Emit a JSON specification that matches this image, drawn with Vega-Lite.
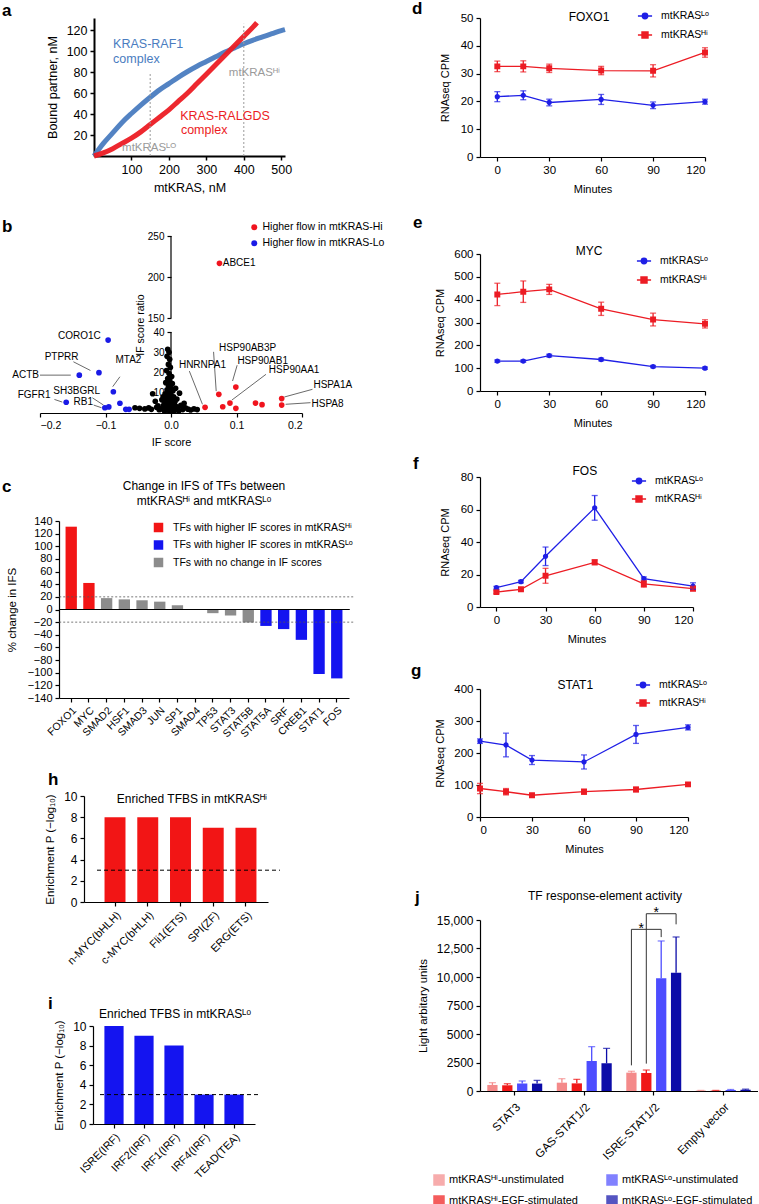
{
  "$schema": "https://vega.github.io/schema/vega-lite/v6.json",
  "background": "white",
  "padding": {"left": 0, "top": 0, "right": 0, "bottom": 0},
  "config": {
    "font": "Liberation Sans",
    "view": {"stroke": null},
    "axis": {"grid": false, "domainColor": "#000", "tickColor": "#000", "labelColor": "#000", "titleColor": "#000", "titleFontWeight": "normal", "labelFontSize": 11, "titleFontSize": 11, "domainWidth": 1.2, "tickWidth": 1.2, "tickSize": 4, "labelPadding": 3, "titlePadding": 8, "labelOverlap": false},
    "title": {"anchor": "start", "frame": "group", "fontSize": 17, "fontWeight": "bold", "color": "#000"},
    "legend": {"labelColor": "#000", "labelFontSize": 10.5, "labelLimit": 300}
  },
  "resolve": {"scale": {"color": "independent", "stroke": "independent", "shape": "independent", "xOffset": "independent"}},
  "spacing": 26,
  "hconcat": [
    {
      "spacing": 0, "bounds": "flush",
      "resolve": {"scale": {"color": "independent", "stroke": "independent", "shape": "independent", "xOffset": "independent"}},
      "vconcat": [
        {
          "width": 285, "height": 218,
          "title": {"text": "a", "dx": 2, "offset": -7},
          "encoding": {
            "x": {"field": "nM", "type": "quantitative", "scale": {"domain": [0, 510], "range": [94, 285], "nice": false}, "axis": {"values": [100, 200, 300, 400, 500], "offset": -80, "title": "mtKRAS, nM", "labelFontSize": 12.5, "titleFontSize": 12.5, "domainWidth": 2, "tickWidth": 1.5, "titlePadding": 6}},
            "y": {"field": "bound", "type": "quantitative", "scale": {"domain": [0, 131.5], "range": [138, 0], "nice": false}, "axis": {"values": [20, 40, 60, 80, 100, 120], "offset": -94, "title": "Bound partner, nM", "labelFontSize": 12.5, "titleFontSize": 12.5, "domainWidth": 2, "tickWidth": 1.5, "titlePadding": 7}},
            "color": {"field": "k", "type": "nominal", "scale": {"domain": ["KRAS-RAF1", "KRAS-RALGDS", "level"], "range": ["#4a7cc0", "#ec1c24", "#9a9a9a"]}, "legend": null}
          },
          "layer": [
            {
              "data": {"values": [
                {"k": "KRAS-RAF1", "nM": 0, "bound": 0}, {"k": "KRAS-RAF1", "nM": 25, "bound": 12}, {"k": "KRAS-RAF1", "nM": 50, "bound": 22}, {"k": "KRAS-RAF1", "nM": 75, "bound": 32}, {"k": "KRAS-RAF1", "nM": 100, "bound": 40.5}, {"k": "KRAS-RAF1", "nM": 125, "bound": 48.5}, {"k": "KRAS-RAF1", "nM": 150, "bound": 56}, {"k": "KRAS-RAF1", "nM": 175, "bound": 63}, {"k": "KRAS-RAF1", "nM": 200, "bound": 69}, {"k": "KRAS-RAF1", "nM": 225, "bound": 75}, {"k": "KRAS-RAF1", "nM": 250, "bound": 80.5}, {"k": "KRAS-RAF1", "nM": 275, "bound": 85.5}, {"k": "KRAS-RAF1", "nM": 300, "bound": 90}, {"k": "KRAS-RAF1", "nM": 325, "bound": 94.5}, {"k": "KRAS-RAF1", "nM": 350, "bound": 99}, {"k": "KRAS-RAF1", "nM": 375, "bound": 103}, {"k": "KRAS-RAF1", "nM": 400, "bound": 107}, {"k": "KRAS-RAF1", "nM": 425, "bound": 110.5}, {"k": "KRAS-RAF1", "nM": 450, "bound": 113.5}, {"k": "KRAS-RAF1", "nM": 475, "bound": 116.5}, {"k": "KRAS-RAF1", "nM": 500, "bound": 119.5}, {"k": "KRAS-RAF1", "nM": 510, "bound": 120.5},
                {"k": "KRAS-RALGDS", "nM": 0, "bound": 0}, {"k": "KRAS-RALGDS", "nM": 25, "bound": 3}, {"k": "KRAS-RALGDS", "nM": 50, "bound": 7}, {"k": "KRAS-RALGDS", "nM": 75, "bound": 12}, {"k": "KRAS-RALGDS", "nM": 100, "bound": 17}, {"k": "KRAS-RALGDS", "nM": 125, "bound": 23}, {"k": "KRAS-RALGDS", "nM": 150, "bound": 30}, {"k": "KRAS-RALGDS", "nM": 175, "bound": 37}, {"k": "KRAS-RALGDS", "nM": 200, "bound": 44}, {"k": "KRAS-RALGDS", "nM": 225, "bound": 52}, {"k": "KRAS-RALGDS", "nM": 250, "bound": 60}, {"k": "KRAS-RALGDS", "nM": 275, "bound": 69}, {"k": "KRAS-RALGDS", "nM": 300, "bound": 78}, {"k": "KRAS-RALGDS", "nM": 325, "bound": 87}, {"k": "KRAS-RALGDS", "nM": 350, "bound": 96}, {"k": "KRAS-RALGDS", "nM": 375, "bound": 105}, {"k": "KRAS-RALGDS", "nM": 400, "bound": 114}, {"k": "KRAS-RALGDS", "nM": 425, "bound": 123}, {"k": "KRAS-RALGDS", "nM": 435, "bound": 127}
              ]},
              "mark": {"type": "line", "strokeWidth": 5, "interpolate": "monotone", "opacity": 0.95}
            },
            {
              "data": {"values": [{"k": "level", "nM": 150, "bound": 0, "b2": 79}, {"k": "level", "nM": 400, "bound": 0, "b2": 126}]},
              "mark": {"type": "rule", "strokeDash": [2, 2], "strokeWidth": 1},
              "encoding": {"y2": {"field": "b2"}}
            },
            {
              "data": {"values": [
                {"k": "KRAS-RAF1", "nM": 51, "bound": 106.7, "t": "KRAS-RAF1"}, {"k": "KRAS-RAF1", "nM": 51, "bound": 92.4, "t": "complex"},
                {"k": "KRAS-RALGDS", "nM": 230, "bound": 38.1, "t": "KRAS-RALGDS"}, {"k": "KRAS-RALGDS", "nM": 232, "bound": 24.8, "t": "complex"}
              ]},
              "mark": {"type": "text", "align": "left", "baseline": "middle", "fontSize": 12.5},
              "encoding": {"text": {"field": "t"}}
            },
            {
              "data": {"values": [{"k": "level", "nM": 75, "bound": 7.6, "t": "mtKRASᴸᴼ"}, {"k": "level", "nM": 360, "bound": 79, "t": "mtKRASᴴⁱ"}]},
              "mark": {"type": "text", "align": "left", "baseline": "middle", "fontSize": 11.5},
              "encoding": {"text": {"field": "t"}}
            }
          ]
        },
        {
          "width": 302, "height": 285,
          "title": {"text": "b", "dx": 2, "offset": -14},
          "encoding": {
            "x": {"field": "s", "type": "quantitative", "scale": {"domain": [-0.2, 0.2], "range": [40, 302], "nice": false, "zero": false}, "axis": {"values": [-0.2, -0.1, 0, 0.1, 0.2], "offset": -108, "format": ".1f", "title": "IF score", "labelFontSize": 10.5, "titleFontSize": 11, "titlePadding": 6}},
            "y": {"field": "r", "type": "quantitative", "scale": {"domain": [0, 40, 150, 250], "range": [177, 96, 82, 0], "nice": false, "zero": false}, "axis": {"values": [10, 20, 30, 40, 150, 200, 250], "offset": -171, "domain": false, "title": "IF score ratio", "labelFontSize": 10, "titleFontSize": 10.5, "titlePadding": 2}}
          },
          "layer": [
            {
              "data": {"values": [{"s": 0, "r": 0, "r2": 40}, {"s": 0, "r": 150, "r2": 250}]},
              "mark": {"type": "rule", "color": "#000", "strokeWidth": 1.2},
              "encoding": {"y2": {"field": "r2"}}
            },
            {
              "data": {"values": [
                {"s": -0.149, "r": 25.3, "s2": -0.123, "r2": 21}, {"s": -0.2, "r": 18.7, "s2": -0.153, "r2": 18.7}, {"s": -0.078, "r": 17.9, "s2": -0.089, "r2": 13}, {"s": -0.12, "r": 7.5, "s2": -0.103, "r2": 3.9}, {"s": -0.118, "r": 3.9, "s2": -0.106, "r2": 2.6}, {"s": -0.178, "r": 6.7, "s2": -0.166, "r2": 5.4},
                {"s": 0.028, "r": 20.7, "s2": 0.048, "r2": 4.3}, {"s": 0.065, "r": 30.2, "s2": 0.069, "r2": 10.8}, {"s": 0.101, "r": 23.6, "s2": 0.094, "r2": 15.8}, {"s": 0.145, "r": 19.1, "s2": 0.093, "r2": 6.4}, {"s": 0.216, "r": 11.7, "s2": 0.173, "r2": 7.9}, {"s": 0.213, "r": 5.1, "s2": 0.175, "r2": 4.3}
              ]},
              "mark": {"type": "rule", "color": "#444", "strokeWidth": 0.8},
              "encoding": {"x2": {"field": "s2"}, "y2": {"field": "r2"}}
            },
            {
              "data": {"values": [
                {"g": "Higher flow in mtKRAS-Lo", "s": -0.096, "r": 36}, {"g": "Higher flow in mtKRAS-Lo", "s": -0.11, "r": 19.9}, {"g": "Higher flow in mtKRAS-Lo", "s": -0.14, "r": 18.7}, {"g": "Higher flow in mtKRAS-Lo", "s": -0.088, "r": 10.5}, {"g": "Higher flow in mtKRAS-Lo", "s": -0.16, "r": 5.3}, {"g": "Higher flow in mtKRAS-Lo", "s": -0.101, "r": 2.6}, {"g": "Higher flow in mtKRAS-Lo", "s": -0.095, "r": 3.0}, {"g": "Higher flow in mtKRAS-Lo", "s": -0.078, "r": 4.8}, {"g": "Higher flow in mtKRAS-Lo", "s": -0.069, "r": 1.8}, {"g": "Higher flow in mtKRAS-Lo", "s": -0.064, "r": 1.8},
                {"g": "Higher flow in mtKRAS-Hi", "s": 0.074, "r": 216.7}, {"g": "Higher flow in mtKRAS-Hi", "s": 0.073, "r": 9.2}, {"g": "Higher flow in mtKRAS-Hi", "s": 0.099, "r": 12.8}, {"g": "Higher flow in mtKRAS-Hi", "s": 0.09, "r": 4.9}, {"g": "Higher flow in mtKRAS-Hi", "s": 0.079, "r": 3.1}, {"g": "Higher flow in mtKRAS-Hi", "s": 0.099, "r": 2.3}, {"g": "Higher flow in mtKRAS-Hi", "s": 0.129, "r": 4.9}, {"g": "Higher flow in mtKRAS-Hi", "s": 0.139, "r": 4.1}, {"g": "Higher flow in mtKRAS-Hi", "s": 0.169, "r": 7.1}, {"g": "Higher flow in mtKRAS-Hi", "s": 0.169, "r": 3.9}, {"g": "Higher flow in mtKRAS-Hi", "s": 0.052, "r": 2.8},
                {"g": "Other", "s": -0.005, "r": 31.5}, {"g": "Other", "s": -0.003, "r": 30}, {"g": "Other", "s": -0.006, "r": 28}, {"g": "Other", "s": -0.002, "r": 26.5}, {"g": "Other", "s": -0.004, "r": 24}, {"g": "Other", "s": -0.001, "r": 22.5}, {"g": "Other", "s": -0.007, "r": 21}, {"g": "Other", "s": -0.003, "r": 19.5}, {"g": "Other", "s": 0.001, "r": 18}, {"g": "Other", "s": -0.005, "r": 17}, {"g": "Other", "s": -0.002, "r": 16}, {"g": "Other", "s": -0.008, "r": 15}, {"g": "Other", "s": 0.002, "r": 14.5}, {"g": "Other", "s": -0.004, "r": 13.5}, {"g": "Other", "s": -0.001, "r": 12.5}, {"g": "Other", "s": -0.006, "r": 11.5}, {"g": "Other", "s": 0.003, "r": 11}, {"g": "Other", "s": -0.003, "r": 10}, {"g": "Other", "s": -0.009, "r": 9.5}, {"g": "Other", "s": 0.0, "r": 9}, {"g": "Other", "s": -0.005, "r": 8.5}, {"g": "Other", "s": 0.004, "r": 8}, {"g": "Other", "s": -0.002, "r": 7.5}, {"g": "Other", "s": -0.007, "r": 7}, {"g": "Other", "s": 0.002, "r": 6.5}, {"g": "Other", "s": -0.004, "r": 6}, {"g": "Other", "s": 0.006, "r": 5.5}, {"g": "Other", "s": -0.01, "r": 5}, {"g": "Other", "s": 0.001, "r": 5}, {"g": "Other", "s": -0.006, "r": 4.5}, {"g": "Other", "s": 0.005, "r": 4}, {"g": "Other", "s": -0.002, "r": 3.8}, {"g": "Other", "s": -0.012, "r": 3.5}, {"g": "Other", "s": 0.008, "r": 3.2}, {"g": "Other", "s": -0.004, "r": 3}, {"g": "Other", "s": 0.003, "r": 2.7}, {"g": "Other", "s": -0.008, "r": 2.4}, {"g": "Other", "s": 0.01, "r": 2.2}, {"g": "Other", "s": -0.015, "r": 2}, {"g": "Other", "s": 0.0, "r": 1.8}, {"g": "Other", "s": -0.006, "r": 1.5}, {"g": "Other", "s": 0.006, "r": 1.4}, {"g": "Other", "s": -0.003, "r": 1.2}, {"g": "Other", "s": 0.012, "r": 1.1}, {"g": "Other", "s": -0.01, "r": 1.0}, {"g": "Other", "s": 0.002, "r": 0.9},
                {"g": "Other", "s": -0.055, "r": 2.6}, {"g": "Other", "s": -0.048, "r": 2.3}, {"g": "Other", "s": -0.04, "r": 2.0}, {"g": "Other", "s": -0.034, "r": 2.5}, {"g": "Other", "s": -0.028, "r": 9.5}, {"g": "Other", "s": -0.024, "r": 5.8}, {"g": "Other", "s": -0.03, "r": 1.8}, {"g": "Other", "s": -0.02, "r": 3.5}, {"g": "Other", "s": -0.018, "r": 1.6}, {"g": "Other", "s": -0.014, "r": 6.5}, {"g": "Other", "s": 0.009, "r": 6.9}, {"g": "Other", "s": 0.015, "r": 3.8}, {"g": "Other", "s": 0.018, "r": 1.7}, {"g": "Other", "s": 0.022, "r": 2.6}, {"g": "Other", "s": 0.026, "r": 1.9}, {"g": "Other", "s": 0.03, "r": 1.5}, {"g": "Other", "s": 0.035, "r": 2.0}, {"g": "Other", "s": 0.04, "r": 1.7}, {"g": "Other", "s": 0.02, "r": 4.8}, {"g": "Other", "s": -0.022, "r": 2.8}, {"g": "Other", "s": 0.013, "r": 9.8}, {"g": "Other", "s": 0.007, "r": 12.2}, {"g": "Other", "s": -0.012, "r": 8.0}
              ]},
              "mark": {"type": "circle", "size": 32, "opacity": 1},
              "encoding": {"color": {"field": "g", "type": "nominal", "scale": {"domain": ["Higher flow in mtKRAS-Hi", "Higher flow in mtKRAS-Lo", "Other"], "range": ["#f0141e", "#1a1ae6", "#000000"]}, "legend": {"values": ["Higher flow in mtKRAS-Hi", "Higher flow in mtKRAS-Lo"], "title": null, "orient": "none", "legendX": 249, "legendY": -14, "padding": 0, "rowPadding": 5, "labelOffset": 3, "labelFontSize": 10.5, "symbolSize": 35, "symbolType": "circle"}}}
            },
            {
              "data": {"values": [
                {"s": -0.14, "r": 37.9, "t": "CORO1C"}, {"s": -0.167, "r": 27.6, "t": "PTPRR"}, {"s": -0.222, "r": 18.7, "t": "ACTB"}, {"s": -0.065, "r": 26.4, "t": "MTA2"}, {"s": -0.144, "r": 10.8, "t": "SH3BGRL"}, {"s": -0.134, "r": 5.4, "t": "RB1"}, {"s": -0.209, "r": 8.7, "t": "FGFR1"},
                {"s": 0.048, "r": 23.6, "t": "HNRNPA1"}, {"s": 0.117, "r": 32.2, "t": "HSP90AB3P"}, {"s": 0.14, "r": 25.6, "t": "HSP90AB1"}, {"s": 0.188, "r": 21, "t": "HSP90AA1"}, {"s": 0.247, "r": 13.6, "t": "HSPA1A"}, {"s": 0.239, "r": 4.6, "t": "HSPA8"}, {"s": 0.104, "r": 216.7, "t": "ABCE1"}
              ]},
              "mark": {"type": "text", "fontSize": 10, "baseline": "middle"},
              "encoding": {"text": {"field": "t"}}
            }
          ]
        },
        {
          "width": 349, "height": 275,
          "title": {"text": "c", "dx": 2, "offset": -16},
          "layer": [
            {
              "data": {"values": [
                {"tf": "FOXO1", "v": 131, "cls": "TFs with higher IF scores in mtKRASᴴⁱ"}, {"tf": "MYC", "v": 42, "cls": "TFs with higher IF scores in mtKRASᴴⁱ"},
                {"tf": "SMAD2", "v": 18, "cls": "TFs with no change in IF scores"}, {"tf": "HSF1", "v": 16, "cls": "TFs with no change in IF scores"}, {"tf": "SMAD3", "v": 14.6, "cls": "TFs with no change in IF scores"}, {"tf": "JUN", "v": 12.4, "cls": "TFs with no change in IF scores"}, {"tf": "SP1", "v": 6.7, "cls": "TFs with no change in IF scores"}, {"tf": "SMAD4", "v": 0, "cls": "TFs with no change in IF scores"}, {"tf": "TP53", "v": -5.8, "cls": "TFs with no change in IF scores"}, {"tf": "STAT3", "v": -9.5, "cls": "TFs with no change in IF scores"}, {"tf": "STAT5B", "v": -20.6, "cls": "TFs with no change in IF scores"},
                {"tf": "STAT5A", "v": -26, "cls": "TFs with higher IF scores in mtKRASᴸᵒ"}, {"tf": "SRF", "v": -31, "cls": "TFs with higher IF scores in mtKRASᴸᵒ"}, {"tf": "CREB1", "v": -48, "cls": "TFs with higher IF scores in mtKRASᴸᵒ"}, {"tf": "STAT1", "v": -102, "cls": "TFs with higher IF scores in mtKRASᴸᵒ"}, {"tf": "FOS", "v": -109, "cls": "TFs with higher IF scores in mtKRASᴸᵒ"}
              ]},
              "mark": {"type": "bar"},
              "encoding": {
                "x": {"field": "tf", "type": "nominal", "sort": null, "scale": {"range": [59, 349], "paddingInner": 0.36, "paddingOuter": 0.37}, "axis": {"labelAngle": -45, "offset": -98, "title": null, "labelFontSize": 10.5}},
                "y": {"field": "v", "type": "quantitative", "scale": {"domain": [-140, 140], "range": [177, 0], "nice": false}, "axis": {"values": [-140, -120, -100, -80, -60, -40, -20, 0, 20, 40, 60, 80, 100, 120, 140], "offset": -59, "title": "% change in IFS", "labelFontSize": 11, "titleFontSize": 11.5, "titlePadding": 10, "labelOverlap": false}},
                "color": {"field": "cls", "type": "nominal", "scale": {"domain": ["TFs with higher IF scores in mtKRASᴴⁱ", "TFs with higher IF scores in mtKRASᴸᵒ", "TFs with no change in IF scores"], "range": ["#f21515", "#1414f0", "#8c8c8c"]}, "legend": {"title": null, "orient": "none", "legendX": 153, "legendY": 1, "padding": 0, "rowPadding": 6.5, "labelOffset": 9, "labelFontSize": 10.5, "symbolSize": 90, "symbolType": "square"}}
              }
            },
            {
              "data": {"values": [{}]},
              "mark": {"type": "rule", "color": "#000", "strokeWidth": 1.2, "xOffset": -12, "x2Offset": 13},
              "encoding": {
                "x": {"datum": "FOXO1", "type": "nominal", "axis": {"labelAngle": -45, "offset": -98, "title": null, "labelFontSize": 10.5}},
                "x2": {"datum": "FOS"},
                "y": {"datum": 0, "type": "quantitative", "axis": {"values": [-140, -120, -100, -80, -60, -40, -20, 0, 20, 40, 60, 80, 100, 120, 140], "offset": -59, "title": "% change in IFS", "labelFontSize": 11, "titleFontSize": 11.5, "titlePadding": 10, "labelOverlap": false}}
              }
            },
            {
              "data": {"values": [{"v": 20}, {"v": -20}]},
              "mark": {"type": "rule", "strokeDash": [2, 2], "color": "#555", "strokeWidth": 0.8, "xOffset": -12, "x2Offset": 17},
              "encoding": {
                "x": {"datum": "FOXO1", "type": "nominal", "axis": {"labelAngle": -45, "offset": -98, "title": null, "labelFontSize": 10.5}},
                "x2": {"datum": "FOS"},
                "y": {"field": "v", "type": "quantitative", "axis": {"values": [-140, -120, -100, -80, -60, -40, -20, 0, 20, 40, 60, 80, 100, 120, 140], "offset": -59, "title": "% change in IFS", "labelFontSize": 11, "titleFontSize": 11.5, "titlePadding": 10, "labelOverlap": false}}
              }
            },
            {
              "data": {"values": [{"v": 196, "t": "Change in IFS of TFs between"}, {"v": 172, "t": "mtKRASᴴⁱ and mtKRASᴸᵒ"}]},
              "mark": {"type": "text", "fontSize": 12, "baseline": "middle", "dx": 29.5},
              "encoding": {"y": {"field": "v", "type": "quantitative", "axis": {"values": [-140, -120, -100, -80, -60, -40, -20, 0, 20, 40, 60, 80, 100, 120, 140], "offset": -59, "title": "% change in IFS", "labelFontSize": 11, "titleFontSize": 11.5, "titlePadding": 10, "labelOverlap": false}}, "text": {"field": "t"}}
            }
          ]
        },
        {
          "width": 268, "height": 230,
          "title": {"text": "h", "dx": 48, "offset": 1},
          "encoding": {
            "y": {"field": "v", "type": "quantitative", "scale": {"domain": [0, 10], "range": [106, 0], "nice": false}, "axis": {"values": [0, 2, 4, 6, 8, 10], "offset": -84, "title": "Enrichment P (−log₁₀)", "labelFontSize": 12, "titleFontSize": 11.5, "titlePadding": 8, "labelOverlap": false}}
          },
          "layer": [
            {
              "data": {"values": [{"f": "n-MYC(bHLH)", "v": 8}, {"f": "c-MYC(bHLH)", "v": 8}, {"f": "Fli1(ETS)", "v": 8}, {"f": "SPI(ZF)", "v": 7}, {"f": "ERG(ETS)", "v": 7}]},
              "mark": {"type": "bar", "color": "#f21515"},
              "encoding": {
                "x": {"field": "f", "type": "nominal", "sort": null, "scale": {"range": [84, 268], "paddingInner": 0.36, "paddingOuter": 0.49, "align": 0.64}, "axis": {"labelAngle": -45, "offset": -124, "title": null, "labelFontSize": 11}}
              }
            },
            {
              "data": {"values": [{"v": 3}]},
              "mark": {"type": "rule", "strokeDash": [4, 3], "color": "#000", "strokeWidth": 1, "xOffset": -18, "x2Offset": 34},
              "encoding": {
                "x": {"datum": "n-MYC(bHLH)", "type": "nominal", "axis": {"labelAngle": -45, "offset": -124, "title": null, "labelFontSize": 11}},
                "x2": {"datum": "ERG(ETS)"}
              }
            },
            {"data": {"values": [{"v": 9.7, "t": "Enriched TFBS in mtKRASᴴⁱ"}]}, "mark": {"type": "text", "fontSize": 12, "baseline": "middle", "dx": 58}, "encoding": {"text": {"field": "t"}}}
          ]
        },
        {
          "width": 255, "height": 98,
          "title": {"text": "i", "dx": 48, "offset": -5},
          "encoding": {
            "y": {"field": "v", "type": "quantitative", "scale": {"domain": [0, 10], "range": [98, 0], "nice": false}, "axis": {"values": [0, 2, 4, 6, 8, 10], "offset": -93, "title": "Enrichment P (−log₁₀)", "labelFontSize": 12, "titleFontSize": 11.5, "titlePadding": 8, "labelOverlap": false}}
          },
          "layer": [
            {
              "data": {"values": [{"f": "ISRE(IRF)", "v": 10}, {"f": "IRF2(IRF)", "v": 9}, {"f": "IRF1(IRF)", "v": 8}, {"f": "IRF4(IRF)", "v": 3}, {"f": "TEAD(TEA)", "v": 3}]},
              "mark": {"type": "bar", "color": "#1414f0"},
              "encoding": {
                "x": {"field": "f", "type": "nominal", "sort": null, "scale": {"range": [93, 255], "paddingInner": 0.36, "paddingOuter": 0.38}, "axis": {"labelAngle": -45, "title": null, "labelFontSize": 11}}
              }
            },
            {
              "data": {"values": [{"v": 3}]},
              "mark": {"type": "rule", "strokeDash": [4, 3], "color": "#000", "strokeWidth": 1, "xOffset": -14, "x2Offset": 26},
              "encoding": {
                "x": {"datum": "ISRE(IRF)", "type": "nominal", "axis": {"labelAngle": -45, "title": null, "labelFontSize": 11}},
                "x2": {"datum": "TEAD(TEA)"}
              }
            },
            {"data": {"values": [{"v": 11.2, "t": "Enriched TFBS in mtKRASᴸᵒ"}]}, "mark": {"type": "text", "fontSize": 12, "baseline": "middle", "dx": 47.5}, "encoding": {"text": {"field": "t"}}}
          ]
        }
      ]
    },
    {
      "spacing": 0, "bounds": "flush",
      "resolve": {"scale": {"color": "independent", "stroke": "independent", "shape": "independent", "xOffset": "independent"}},
      "vconcat": [
        {
          "width": 225, "height": 236,
          "title": {"text": "d", "dx": -68, "offset": -10},
          "data": {"values": [
            {"m": 0, "s": "mtKRASᴸᵒ", "v": 21.7, "lo": 19.9, "hi": 23.5}, {"m": 15, "s": "mtKRASᴸᵒ", "v": 22.2, "lo": 20.6, "hi": 23.8}, {"m": 30, "s": "mtKRASᴸᵒ", "v": 19.6, "lo": 18.4, "hi": 20.8}, {"m": 60, "s": "mtKRASᴸᵒ", "v": 20.7, "lo": 18.9, "hi": 22.5}, {"m": 90, "s": "mtKRASᴸᵒ", "v": 18.6, "lo": 17.4, "hi": 19.8}, {"m": 120, "s": "mtKRASᴸᵒ", "v": 19.9, "lo": 19.0, "hi": 20.8},
            {"m": 0, "s": "mtKRASᴴⁱ", "v": 32.6, "lo": 30.7, "hi": 34.5}, {"m": 15, "s": "mtKRASᴴⁱ", "v": 32.6, "lo": 30.6, "hi": 34.6}, {"m": 30, "s": "mtKRASᴴⁱ", "v": 31.9, "lo": 30.4, "hi": 33.4}, {"m": 60, "s": "mtKRASᴴⁱ", "v": 31.1, "lo": 29.6, "hi": 32.6}, {"m": 90, "s": "mtKRASᴴⁱ", "v": 31.0, "lo": 28.8, "hi": 33.2}, {"m": 120, "s": "mtKRASᴴⁱ", "v": 37.6, "lo": 35.9, "hi": 39.3}
          ]},
          "encoding": {
            "x": {"field": "m", "type": "quantitative", "scale": {"domain": [-10, 120], "nice": false, "zero": false}, "axis": {"values": [0, 30, 60, 90, 120], "offset": -97, "title": "Minutes", "labelFontSize": 11.5}}
          },
          "layer": [
            {
              "mark": {"type": "point", "filled": true, "opacity": 1, "size": 200, "strokeWidth": 0},
              "encoding": {
                "y": {"field": "v", "type": "quantitative", "scale": {"domain": [0, 50], "range": [139, 0], "nice": false}, "axis": {"values": [0, 10, 20, 30, 40, 50], "title": "RNAseq CPM", "labelFontSize": 11.5, "titlePadding": 10, "labelOverlap": false}},
                "color": {"field": "s", "type": "nominal", "scale": {"domain": ["mtKRASᴸᵒ", "mtKRASᴴⁱ"], "range": ["#1f1fe6", "#ec1c24"]}, "legend": {"title": null, "orient": "none", "legendX": 157, "legendY": -10, "padding": 0, "rowPadding": 5, "labelOffset": 8, "labelFontSize": 10.5, "symbolSize": 200, "encode": {"symbols": {"update": {"strokeWidth": {"value": 1.4}}}}}},
                "stroke": {"field": "s", "type": "nominal", "scale": {"domain": ["mtKRASᴸᵒ", "mtKRASᴴⁱ"], "range": ["#1f1fe6", "#ec1c24"]}, "legend": {"title": null, "orient": "none", "legendX": 157, "legendY": -10, "padding": 0, "rowPadding": 5, "labelOffset": 8, "labelFontSize": 10.5, "symbolSize": 200, "encode": {"symbols": {"update": {"strokeWidth": {"value": 1.4}}}}}},
                "shape": {"field": "s", "type": "nominal", "scale": {"domain": ["mtKRASᴸᵒ", "mtKRASᴴⁱ"], "range": ["M-1,0H1M0.375,0A0.375,0.375,0,1,1,-0.375,0A0.375,0.375,0,1,1,0.375,0Z", "M-1,0H1M-0.42,-0.42H0.42V0.42H-0.42Z"]}, "legend": {"title": null, "orient": "none", "legendX": 157, "legendY": -10, "padding": 0, "rowPadding": 5, "labelOffset": 8, "labelFontSize": 10.5, "symbolSize": 200, "encode": {"symbols": {"update": {"strokeWidth": {"value": 1.4}}}}}}
              }
            },
            {"mark": {"type": "line", "strokeWidth": 1.3}, "encoding": {"y": {"field": "v", "type": "quantitative", "axis": {"values": [0, 10, 20, 30, 40, 50], "title": "RNAseq CPM", "labelFontSize": 11.5, "titlePadding": 10, "labelOverlap": false}}, "color": {"field": "s", "type": "nominal"}}},
            {"mark": {"type": "errorbar", "ticks": {"size": 6}, "thickness": 1.3}, "encoding": {"y": {"field": "lo", "type": "quantitative", "axis": {"values": [0, 10, 20, 30, 40, 50], "title": "RNAseq CPM", "labelFontSize": 11.5, "titlePadding": 10, "labelOverlap": false}}, "y2": {"field": "hi"}, "color": {"field": "s", "type": "nominal"}}},
            {"data": {"values": [{"m": 53, "v": 50.3, "t": "FOXO1"}]}, "mark": {"type": "text", "fontSize": 12, "baseline": "middle"}, "encoding": {"y": {"field": "v", "type": "quantitative", "axis": {"values": [0, 10, 20, 30, 40, 50], "title": "RNAseq CPM", "labelFontSize": 11.5, "titlePadding": 10, "labelOverlap": false}}, "text": {"field": "t"}}}
          ]
        },
        {
          "width": 225, "height": 223,
          "title": {"text": "e", "dx": -67, "offset": 13},
          "data": {"values": [
            {"m": 0, "s": "mtKRASᴸᵒ", "v": 131, "lo": 126, "hi": 136}, {"m": 15, "s": "mtKRASᴸᵒ", "v": 131, "lo": 126, "hi": 136}, {"m": 30, "s": "mtKRASᴸᵒ", "v": 155, "lo": 149, "hi": 161}, {"m": 60, "s": "mtKRASᴸᵒ", "v": 138, "lo": 132, "hi": 144}, {"m": 90, "s": "mtKRASᴸᵒ", "v": 107, "lo": 102, "hi": 112}, {"m": 120, "s": "mtKRASᴸᵒ", "v": 100, "lo": 95, "hi": 105},
            {"m": 0, "s": "mtKRASᴴⁱ", "v": 423, "lo": 374, "hi": 472}, {"m": 15, "s": "mtKRASᴴⁱ", "v": 435, "lo": 388, "hi": 482}, {"m": 30, "s": "mtKRASᴴⁱ", "v": 445, "lo": 423, "hi": 467}, {"m": 60, "s": "mtKRASᴴⁱ", "v": 360, "lo": 331, "hi": 389}, {"m": 90, "s": "mtKRASᴴⁱ", "v": 313, "lo": 285, "hi": 341}, {"m": 120, "s": "mtKRASᴴⁱ", "v": 294, "lo": 276, "hi": 312}
          ]},
          "encoding": {
            "x": {"field": "m", "type": "quantitative", "scale": {"domain": [-10, 120], "nice": false, "zero": false}, "axis": {"values": [0, 30, 60, 90, 120], "offset": -86, "title": "Minutes", "labelFontSize": 11.5}}
          },
          "layer": [
            {
              "mark": {"type": "point", "filled": true, "opacity": 1, "size": 200, "strokeWidth": 0},
              "encoding": {
                "y": {"field": "v", "type": "quantitative", "scale": {"domain": [0, 600], "range": [137, 0], "nice": false}, "axis": {"values": [0, 100, 200, 300, 400, 500, 600], "title": "RNAseq CPM", "labelFontSize": 11.5, "titlePadding": 8, "labelOverlap": false}},
                "color": {"field": "s", "type": "nominal", "scale": {"domain": ["mtKRASᴸᵒ", "mtKRASᴴⁱ"], "range": ["#1f1fe6", "#ec1c24"]}, "legend": {"title": null, "orient": "none", "legendX": 156, "legendY": -1, "padding": 0, "rowPadding": 5, "labelOffset": 8, "labelFontSize": 10.5, "symbolSize": 200, "encode": {"symbols": {"update": {"strokeWidth": {"value": 1.4}}}}}},
                "stroke": {"field": "s", "type": "nominal", "scale": {"domain": ["mtKRASᴸᵒ", "mtKRASᴴⁱ"], "range": ["#1f1fe6", "#ec1c24"]}, "legend": {"title": null, "orient": "none", "legendX": 156, "legendY": -1, "padding": 0, "rowPadding": 5, "labelOffset": 8, "labelFontSize": 10.5, "symbolSize": 200, "encode": {"symbols": {"update": {"strokeWidth": {"value": 1.4}}}}}},
                "shape": {"field": "s", "type": "nominal", "scale": {"domain": ["mtKRASᴸᵒ", "mtKRASᴴⁱ"], "range": ["M-1,0H1M0.375,0A0.375,0.375,0,1,1,-0.375,0A0.375,0.375,0,1,1,0.375,0Z", "M-1,0H1M-0.42,-0.42H0.42V0.42H-0.42Z"]}, "legend": {"title": null, "orient": "none", "legendX": 156, "legendY": -1, "padding": 0, "rowPadding": 5, "labelOffset": 8, "labelFontSize": 10.5, "symbolSize": 200, "encode": {"symbols": {"update": {"strokeWidth": {"value": 1.4}}}}}}
              }
            },
            {"mark": {"type": "line", "strokeWidth": 1.3}, "encoding": {"y": {"field": "v", "type": "quantitative", "axis": {"values": [0, 100, 200, 300, 400, 500, 600], "title": "RNAseq CPM", "labelFontSize": 11.5, "titlePadding": 8, "labelOverlap": false}}, "color": {"field": "s", "type": "nominal"}}},
            {"mark": {"type": "errorbar", "ticks": {"size": 6}, "thickness": 1.3}, "encoding": {"y": {"field": "lo", "type": "quantitative", "axis": {"values": [0, 100, 200, 300, 400, 500, 600], "title": "RNAseq CPM", "labelFontSize": 11.5, "titlePadding": 8, "labelOverlap": false}}, "y2": {"field": "hi"}, "color": {"field": "s", "type": "nominal"}}},
            {"data": {"values": [{"m": 53, "v": 613, "t": "MYC"}]}, "mark": {"type": "text", "fontSize": 12, "baseline": "middle"}, "encoding": {"y": {"field": "v", "type": "quantitative", "axis": {"values": [0, 100, 200, 300, 400, 500, 600], "title": "RNAseq CPM", "labelFontSize": 11.5, "titlePadding": 8, "labelOverlap": false}}, "text": {"field": "t"}}}
          ]
        },
        {
          "width": 213, "height": 212,
          "title": {"text": "f", "dx": -67, "offset": -8},
          "data": {"values": [
            {"m": 0, "s": "mtKRASᴸᵒ", "v": 11.9, "lo": 11.1, "hi": 12.7}, {"m": 15, "s": "mtKRASᴸᵒ", "v": 15.6, "lo": 14.8, "hi": 16.4}, {"m": 30, "s": "mtKRASᴸᵒ", "v": 31.2, "lo": 25.5, "hi": 36.9}, {"m": 60, "s": "mtKRASᴸᵒ", "v": 61, "lo": 53.4, "hi": 68.6}, {"m": 90, "s": "mtKRASᴸᵒ", "v": 17.5, "lo": 16.5, "hi": 18.5}, {"m": 120, "s": "mtKRASᴸᵒ", "v": 12.9, "lo": 10.9, "hi": 14.9},
            {"m": 0, "s": "mtKRASᴴⁱ", "v": 9.2, "lo": 8.4, "hi": 10.0}, {"m": 15, "s": "mtKRASᴴⁱ", "v": 10.9, "lo": 10.1, "hi": 11.7}, {"m": 30, "s": "mtKRASᴴⁱ", "v": 19.2, "lo": 14.6, "hi": 23.8}, {"m": 60, "s": "mtKRASᴴⁱ", "v": 27.5, "lo": 26.0, "hi": 29.0}, {"m": 90, "s": "mtKRASᴴⁱ", "v": 14.2, "lo": 12.2, "hi": 16.2}, {"m": 120, "s": "mtKRASᴴⁱ", "v": 11.3, "lo": 9.8, "hi": 12.8}
          ]},
          "encoding": {
            "x": {"field": "m", "type": "quantitative", "scale": {"domain": [-10, 120], "nice": false, "zero": false}, "axis": {"values": [0, 30, 60, 90, 120], "offset": -82, "title": "Minutes", "labelFontSize": 11.5}}
          },
          "layer": [
            {
              "mark": {"type": "point", "filled": true, "opacity": 1, "size": 200, "strokeWidth": 0},
              "encoding": {
                "y": {"field": "v", "type": "quantitative", "scale": {"domain": [0, 80], "range": [130, 0], "nice": false}, "axis": {"values": [0, 20, 40, 60, 80], "title": "RNAseq CPM", "labelFontSize": 11.5, "titlePadding": 10, "labelOverlap": false}},
                "color": {"field": "s", "type": "nominal", "scale": {"domain": ["mtKRASᴸᵒ", "mtKRASᴴⁱ"], "range": ["#1f1fe6", "#ec1c24"]}, "legend": {"title": null, "orient": "none", "legendX": 151, "legendY": -4, "padding": 0, "rowPadding": 4, "labelOffset": 8, "labelFontSize": 10.5, "symbolSize": 200, "encode": {"symbols": {"update": {"strokeWidth": {"value": 1.4}}}}}},
                "stroke": {"field": "s", "type": "nominal", "scale": {"domain": ["mtKRASᴸᵒ", "mtKRASᴴⁱ"], "range": ["#1f1fe6", "#ec1c24"]}, "legend": {"title": null, "orient": "none", "legendX": 151, "legendY": -4, "padding": 0, "rowPadding": 4, "labelOffset": 8, "labelFontSize": 10.5, "symbolSize": 200, "encode": {"symbols": {"update": {"strokeWidth": {"value": 1.4}}}}}},
                "shape": {"field": "s", "type": "nominal", "scale": {"domain": ["mtKRASᴸᵒ", "mtKRASᴴⁱ"], "range": ["M-1,0H1M0.375,0A0.375,0.375,0,1,1,-0.375,0A0.375,0.375,0,1,1,0.375,0Z", "M-1,0H1M-0.42,-0.42H0.42V0.42H-0.42Z"]}, "legend": {"title": null, "orient": "none", "legendX": 151, "legendY": -4, "padding": 0, "rowPadding": 4, "labelOffset": 8, "labelFontSize": 10.5, "symbolSize": 200, "encode": {"symbols": {"update": {"strokeWidth": {"value": 1.4}}}}}}
              }
            },
            {"mark": {"type": "line", "strokeWidth": 1.3}, "encoding": {"y": {"field": "v", "type": "quantitative", "axis": {"values": [0, 20, 40, 60, 80], "title": "RNAseq CPM", "labelFontSize": 11.5, "titlePadding": 10, "labelOverlap": false}}, "color": {"field": "s", "type": "nominal"}}},
            {"mark": {"type": "errorbar", "ticks": {"size": 6}, "thickness": 1.3}, "encoding": {"y": {"field": "lo", "type": "quantitative", "axis": {"values": [0, 20, 40, 60, 80], "title": "RNAseq CPM", "labelFontSize": 11.5, "titlePadding": 10, "labelOverlap": false}}, "y2": {"field": "hi"}, "color": {"field": "s", "type": "nominal"}}},
            {"data": {"values": [{"m": 54, "v": 83.5, "t": "FOS"}]}, "mark": {"type": "text", "fontSize": 12, "baseline": "middle"}, "encoding": {"y": {"field": "v", "type": "quantitative", "axis": {"values": [0, 20, 40, 60, 80], "title": "RNAseq CPM", "labelFontSize": 11.5, "titlePadding": 10, "labelOverlap": false}}, "text": {"field": "t"}}}
          ]
        },
        {
          "width": 208, "height": 231,
          "title": {"text": "g", "dx": -69, "offset": -3},
          "data": {"values": [
            {"m": 0, "s": "mtKRASᴸᵒ", "v": 237, "lo": 230, "hi": 244}, {"m": 15, "s": "mtKRASᴸᵒ", "v": 225, "lo": 188, "hi": 262}, {"m": 30, "s": "mtKRASᴸᵒ", "v": 178, "lo": 164, "hi": 192}, {"m": 60, "s": "mtKRASᴸᵒ", "v": 172, "lo": 150, "hi": 194}, {"m": 90, "s": "mtKRASᴸᵒ", "v": 258, "lo": 230, "hi": 286}, {"m": 120, "s": "mtKRASᴸᵒ", "v": 280, "lo": 272, "hi": 288},
            {"m": 0, "s": "mtKRASᴴⁱ", "v": 89, "lo": 73, "hi": 105}, {"m": 15, "s": "mtKRASᴴⁱ", "v": 79, "lo": 69, "hi": 89}, {"m": 30, "s": "mtKRASᴴⁱ", "v": 68, "lo": 63, "hi": 73}, {"m": 60, "s": "mtKRASᴴⁱ", "v": 79, "lo": 71, "hi": 87}, {"m": 90, "s": "mtKRASᴴⁱ", "v": 86, "lo": 79, "hi": 93}, {"m": 120, "s": "mtKRASᴴⁱ", "v": 102, "lo": 97, "hi": 107}
          ]},
          "encoding": {
            "x": {"field": "m", "type": "quantitative", "scale": {"domain": [0, 120], "nice": false, "zero": false}, "axis": {"values": [0, 30, 60, 90, 120], "offset": -103, "title": "Minutes", "labelFontSize": 11.5}}
          },
          "layer": [
            {
              "mark": {"type": "point", "filled": true, "opacity": 1, "size": 200, "strokeWidth": 0},
              "encoding": {
                "y": {"field": "v", "type": "quantitative", "scale": {"domain": [0, 400], "range": [128, 0], "nice": false}, "axis": {"values": [0, 100, 200, 300, 400], "title": "RNAseq CPM", "labelFontSize": 11.5, "titlePadding": 8, "labelOverlap": false}},
                "color": {"field": "s", "type": "nominal", "scale": {"domain": ["mtKRASᴸᵒ", "mtKRASᴴⁱ"], "range": ["#1f1fe6", "#ec1c24"]}, "legend": {"title": null, "orient": "none", "legendX": 155, "legendY": -12, "padding": 0, "rowPadding": 4, "labelOffset": 8, "labelFontSize": 10.5, "symbolSize": 200, "encode": {"symbols": {"update": {"strokeWidth": {"value": 1.4}}}}}},
                "stroke": {"field": "s", "type": "nominal", "scale": {"domain": ["mtKRASᴸᵒ", "mtKRASᴴⁱ"], "range": ["#1f1fe6", "#ec1c24"]}, "legend": {"title": null, "orient": "none", "legendX": 155, "legendY": -12, "padding": 0, "rowPadding": 4, "labelOffset": 8, "labelFontSize": 10.5, "symbolSize": 200, "encode": {"symbols": {"update": {"strokeWidth": {"value": 1.4}}}}}},
                "shape": {"field": "s", "type": "nominal", "scale": {"domain": ["mtKRASᴸᵒ", "mtKRASᴴⁱ"], "range": ["M-1,0H1M0.375,0A0.375,0.375,0,1,1,-0.375,0A0.375,0.375,0,1,1,0.375,0Z", "M-1,0H1M-0.42,-0.42H0.42V0.42H-0.42Z"]}, "legend": {"title": null, "orient": "none", "legendX": 155, "legendY": -12, "padding": 0, "rowPadding": 4, "labelOffset": 8, "labelFontSize": 10.5, "symbolSize": 200, "encode": {"symbols": {"update": {"strokeWidth": {"value": 1.4}}}}}}
              }
            },
            {"mark": {"type": "line", "strokeWidth": 1.3}, "encoding": {"y": {"field": "v", "type": "quantitative", "axis": {"values": [0, 100, 200, 300, 400], "title": "RNAseq CPM", "labelFontSize": 11.5, "titlePadding": 8, "labelOverlap": false}}, "color": {"field": "s", "type": "nominal"}}},
            {"mark": {"type": "errorbar", "ticks": {"size": 6}, "thickness": 1.3}, "encoding": {"y": {"field": "lo", "type": "quantitative", "axis": {"values": [0, 100, 200, 300, 400], "title": "RNAseq CPM", "labelFontSize": 11.5, "titlePadding": 8, "labelOverlap": false}}, "y2": {"field": "hi"}, "color": {"field": "s", "type": "nominal"}}},
            {"data": {"values": [{"m": 55, "v": 411, "t": "STAT1"}]}, "mark": {"type": "text", "fontSize": 12, "baseline": "middle"}, "encoding": {"y": {"field": "v", "type": "quantitative", "axis": {"values": [0, 100, 200, 300, 400], "title": "RNAseq CPM", "labelFontSize": 11.5, "titlePadding": 8, "labelOverlap": false}}, "text": {"field": "t"}}}
          ]
        },
        {
          "width": 278, "height": 171,
          "title": {"text": "j", "dx": -65, "offset": -17},
          "layer": [
            {
              "data": {"values": [
                {"g": "STAT3", "c": "mtKRASᴴⁱ-unstimulated", "v": 530, "e": 730}, {"g": "STAT3", "c": "mtKRASᴴⁱ-EGF-stimulated", "v": 500, "e": 640}, {"g": "STAT3", "c": "mtKRASᴸᵒ-unstimulated", "v": 650, "e": 880}, {"g": "STAT3", "c": "mtKRASᴸᵒ-EGF-stimulated", "v": 650, "e": 930},
                {"g": "GAS-STAT1/2", "c": "mtKRASᴴⁱ-unstimulated", "v": 730, "e": 1080}, {"g": "GAS-STAT1/2", "c": "mtKRASᴴⁱ-EGF-stimulated", "v": 670, "e": 1020}, {"g": "GAS-STAT1/2", "c": "mtKRASᴸᵒ-unstimulated", "v": 2630, "e": 3890}, {"g": "GAS-STAT1/2", "c": "mtKRASᴸᵒ-EGF-stimulated", "v": 2430, "e": 3740},
                {"g": "ISRE-STAT1/2", "c": "mtKRASᴴⁱ-unstimulated", "v": 1610, "e": 1730}, {"g": "ISRE-STAT1/2", "c": "mtKRASᴴⁱ-EGF-stimulated", "v": 1580, "e": 1840}, {"g": "ISRE-STAT1/2", "c": "mtKRASᴸᵒ-unstimulated", "v": 9880, "e": 13160}, {"g": "ISRE-STAT1/2", "c": "mtKRASᴸᵒ-EGF-stimulated", "v": 10380, "e": 13510},
                {"g": "Empty vector", "c": "mtKRASᴴⁱ-unstimulated", "v": 30, "e": 50}, {"g": "Empty vector", "c": "mtKRASᴴⁱ-EGF-stimulated", "v": 30, "e": 50}, {"g": "Empty vector", "c": "mtKRASᴸᵒ-unstimulated", "v": 90, "e": 130}, {"g": "Empty vector", "c": "mtKRASᴸᵒ-EGF-stimulated", "v": 110, "e": 160}
              ]},
              "layer": [
                {
                  "mark": {"type": "bar"},
                  "encoding": {
                    "x": {"field": "g", "type": "nominal", "sort": ["STAT3", "GAS-STAT1/2", "ISRE-STAT1/2", "Empty vector"], "scale": {"paddingInner": 0.1, "paddingOuter": 0.05}, "axis": {"labelAngle": -45, "title": null, "labelFontSize": 11.5, "labelPadding": 6}},
                    "xOffset": {"field": "c", "type": "nominal", "sort": ["mtKRASᴴⁱ-unstimulated", "mtKRASᴴⁱ-EGF-stimulated", "mtKRASᴸᵒ-unstimulated", "mtKRASᴸᵒ-EGF-stimulated"], "scale": {"paddingInner": 0.31, "paddingOuter": 0.255}},
                    "y": {"field": "v", "type": "quantitative", "scale": {"domain": [0, 15000], "nice": false}, "axis": {"values": [0, 2500, 5000, 7500, 10000, 12500, 15000], "labelExpr": "datum.value >= 10000 ? format(datum.value, ',') : format(datum.value, 'd')", "title": "Light arbitary units", "labelFontSize": 12, "titleFontSize": 11.5, "titlePadding": 8, "labelOverlap": false}},
                    "color": {"field": "c", "type": "nominal", "scale": {"domain": ["mtKRASᴴⁱ-unstimulated", "mtKRASᴴⁱ-EGF-stimulated", "mtKRASᴸᵒ-unstimulated", "mtKRASᴸᵒ-EGF-stimulated"], "range": ["#f48a8a", "#f01818", "#4d4dff", "#0c0ca8"]}, "legend": {"values": ["mtKRASᴴⁱ-unstimulated", "mtKRASᴴⁱ-EGF-stimulated", "mtKRASᴸᵒ-unstimulated", "mtKRASᴸᵒ-EGF-stimulated"], "title": null, "orient": "none", "legendX": -47, "legendY": 254, "columns": 2, "columnPadding": 26, "rowPadding": 5, "symbolType": "square", "symbolSize": 100, "labelFontSize": 11, "padding": 0}}
                  }
                },
                {
                  "mark": {"type": "rule", "strokeWidth": 1.3},
                  "encoding": {
                    "x": {"field": "g", "type": "nominal", "sort": ["STAT3", "GAS-STAT1/2", "ISRE-STAT1/2", "Empty vector"]},
                    "xOffset": {"field": "c", "type": "nominal", "sort": ["mtKRASᴴⁱ-unstimulated", "mtKRASᴴⁱ-EGF-stimulated", "mtKRASᴸᵒ-unstimulated", "mtKRASᴸᵒ-EGF-stimulated"]},
                    "y": {"field": "v", "type": "quantitative", "axis": {"values": [0, 2500, 5000, 7500, 10000, 12500, 15000], "labelExpr": "datum.value >= 10000 ? format(datum.value, ',') : format(datum.value, 'd')", "title": "Light arbitary units", "labelFontSize": 12, "titleFontSize": 11.5, "titlePadding": 8, "labelOverlap": false}}, "y2": {"field": "e"},
                    "color": {"field": "c", "type": "nominal", "scale": {"domain": ["mtKRASᴴⁱ-unstimulated", "mtKRASᴴⁱ-EGF-stimulated", "mtKRASᴸᵒ-unstimulated", "mtKRASᴸᵒ-EGF-stimulated"], "range": ["#f48a8a", "#f01818", "#4d4dff", "#0c0ca8"]}}
                  }
                },
                {
                  "mark": {"type": "tick", "thickness": 1.3, "size": 7},
                  "encoding": {
                    "x": {"field": "g", "type": "nominal", "sort": ["STAT3", "GAS-STAT1/2", "ISRE-STAT1/2", "Empty vector"]},
                    "xOffset": {"field": "c", "type": "nominal", "sort": ["mtKRASᴴⁱ-unstimulated", "mtKRASᴴⁱ-EGF-stimulated", "mtKRASᴸᵒ-unstimulated", "mtKRASᴸᵒ-EGF-stimulated"]},
                    "y": {"field": "e", "type": "quantitative", "axis": {"values": [0, 2500, 5000, 7500, 10000, 12500, 15000], "labelExpr": "datum.value >= 10000 ? format(datum.value, ',') : format(datum.value, 'd')", "title": "Light arbitary units", "labelFontSize": 12, "titleFontSize": 11.5, "titlePadding": 8, "labelOverlap": false}},
                    "color": {"field": "c", "type": "nominal", "scale": {"domain": ["mtKRASᴴⁱ-unstimulated", "mtKRASᴴⁱ-EGF-stimulated", "mtKRASᴸᵒ-unstimulated", "mtKRASᴸᵒ-EGF-stimulated"], "range": ["#f48a8a", "#f01818", "#4d4dff", "#0c0ca8"]}}
                  }
                }
              ]
            },
            {
              "data": {"values": [
                {"b": 1, "o": 1, "g": "ISRE-STAT1/2", "c": "mtKRASᴴⁱ-unstimulated", "v": 2250}, {"b": 1, "o": 2, "g": "ISRE-STAT1/2", "c": "mtKRASᴴⁱ-unstimulated", "v": 14180}, {"b": 1, "o": 3, "g": "ISRE-STAT1/2", "c": "mtKRASᴸᵒ-unstimulated", "v": 14180}, {"b": 1, "o": 4, "g": "ISRE-STAT1/2", "c": "mtKRASᴸᵒ-unstimulated", "v": 13500},
                {"b": 2, "o": 1, "g": "ISRE-STAT1/2", "c": "mtKRASᴴⁱ-EGF-stimulated", "v": 2400}, {"b": 2, "o": 2, "g": "ISRE-STAT1/2", "c": "mtKRASᴴⁱ-EGF-stimulated", "v": 15550}, {"b": 2, "o": 3, "g": "ISRE-STAT1/2", "c": "mtKRASᴸᵒ-EGF-stimulated", "v": 15550}, {"b": 2, "o": 4, "g": "ISRE-STAT1/2", "c": "mtKRASᴸᵒ-EGF-stimulated", "v": 14620}
              ]},
              "mark": {"type": "line", "color": "#333", "strokeWidth": 1},
              "encoding": {
                "x": {"field": "g", "type": "nominal", "sort": ["STAT3", "GAS-STAT1/2", "ISRE-STAT1/2", "Empty vector"]},
                "xOffset": {"field": "c", "type": "nominal", "sort": ["mtKRASᴴⁱ-unstimulated", "mtKRASᴴⁱ-EGF-stimulated", "mtKRASᴸᵒ-unstimulated", "mtKRASᴸᵒ-EGF-stimulated"]},
                "y": {"field": "v", "type": "quantitative", "axis": {"values": [0, 2500, 5000, 7500, 10000, 12500, 15000], "labelExpr": "datum.value >= 10000 ? format(datum.value, ',') : format(datum.value, 'd')", "title": "Light arbitary units", "labelFontSize": 12, "titleFontSize": 11.5, "titlePadding": 8, "labelOverlap": false}},
                "detail": {"field": "b", "type": "nominal"},
                "order": {"field": "o", "type": "quantitative"}
              }
            },
            {
              "data": {"values": [{"g": "ISRE-STAT1/2", "c": "mtKRASᴴⁱ-EGF-stimulated", "v": 14250, "t": "*"}, {"g": "ISRE-STAT1/2", "c": "mtKRASᴸᵒ-unstimulated", "v": 15640, "t": "*"}]},
              "mark": {"type": "text", "fontSize": 14, "baseline": "middle", "dx": -5},
              "encoding": {
                "x": {"field": "g", "type": "nominal", "sort": ["STAT3", "GAS-STAT1/2", "ISRE-STAT1/2", "Empty vector"]},
                "xOffset": {"field": "c", "type": "nominal", "sort": ["mtKRASᴴⁱ-unstimulated", "mtKRASᴴⁱ-EGF-stimulated", "mtKRASᴸᵒ-unstimulated", "mtKRASᴸᵒ-EGF-stimulated"]},
                "y": {"field": "v", "type": "quantitative", "axis": {"values": [0, 2500, 5000, 7500, 10000, 12500, 15000], "labelExpr": "datum.value >= 10000 ? format(datum.value, ',') : format(datum.value, 'd')", "title": "Light arbitary units", "labelFontSize": 12, "titleFontSize": 11.5, "titlePadding": 8, "labelOverlap": false}},
                "text": {"field": "t"}
              }
            },
            {
              "data": {"values": [{"v": 17100, "t": "TF response-element activity"}]},
              "mark": {"type": "text", "fontSize": 12, "baseline": "middle", "dx": -14},
              "encoding": {"y": {"field": "v", "type": "quantitative", "axis": {"values": [0, 2500, 5000, 7500, 10000, 12500, 15000], "labelExpr": "datum.value >= 10000 ? format(datum.value, ',') : format(datum.value, 'd')", "title": "Light arbitary units", "labelFontSize": 12, "titleFontSize": 11.5, "titlePadding": 8, "labelOverlap": false}}, "text": {"field": "t"}}
            }
          ]
        }
      ]
    }
  ]
}
